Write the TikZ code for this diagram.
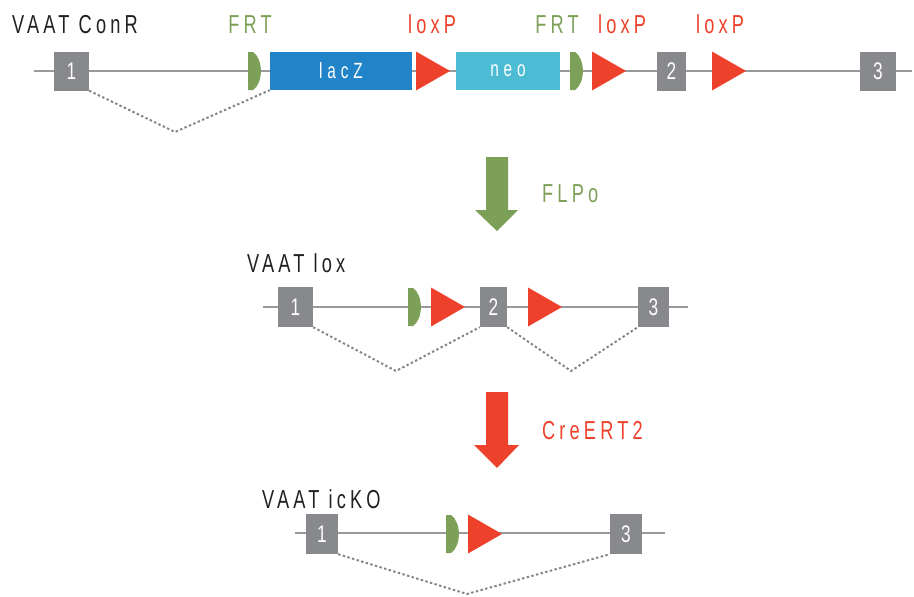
\documentclass[tikz,border=0pt]{standalone}
\usepackage{fontspec}
\setmainfont{Liberation Sans}
\newfontfamily\labfont[FakeStretch=0.70,LetterSpace=16]{Liberation Sans}
\newfontfamily\boxfont[FakeStretch=0.70,LetterSpace=22]{Liberation Sans}
\newfontfamily\numfont[FakeStretch=0.72,LetterSpace=0]{Liberation Sans}
\definecolor{exgray}{HTML}{88898D}
\definecolor{lgray}{HTML}{9A9A9C}
\definecolor{dgray}{HTML}{858587}
\definecolor{frtgreen}{HTML}{7DA058}
\definecolor{loxred}{HTML}{EE412B}
\definecolor{lacblue}{HTML}{2284C8}
\definecolor{neocyan}{HTML}{4CBBD4}
\definecolor{txt}{HTML}{231F20}
\newcommand\frtsite[2]{\fill[frtgreen] (#1,#2-19) -- (#1,#2+19) -- (#1+5,#2+19) .. controls (#1+15.5,#2+12) and (#1+15.5,#2-12) .. (#1+5,#2-19) -- cycle;}
\newcommand\loxpsite[2]{\fill[loxred] (#1,#2-19.5) -- (#1+34,#2) -- (#1,#2+19.5) -- cycle;}
\begin{document}
\begin{tikzpicture}[x=1pt,y=-1pt,
  gene/.style={draw=lgray, line width=1.8pt},
  exon/.style={fill=exgray, minimum height=39pt, inner sep=0pt, text=white, font=\numfont\fontsize{24}{24}\selectfont},
  cassette/.style={minimum height=38pt, inner sep=0pt, text=white, font=\boxfont\fontsize{22}{22}\selectfont},
  splice/.style={draw=dgray, line width=2pt, dash pattern=on 2.4pt off 2.4pt},
  lab/.style={inner sep=0pt, font=\labfont\fontsize{26}{26}\selectfont}
]
\useasboundingbox (0,0) rectangle (914,597);
% ---------------- row 1: VAAT ConR
\coordinate (r1L) at (34,71);
\coordinate (r1R) at (912,71);
\draw[gene] (r1L) -- (r1R);
\node[exon, minimum width=35pt] (a1) at (71.5,71) {1};
\frtsite{248}{71}
\node[cassette, fill=lacblue, minimum width=142pt] (lacz) at (341,71) {lacZ};
\loxpsite{416}{71}
\node[cassette, fill=neocyan, minimum width=104pt] (neo) at (508,71) {neo};
\frtsite{570}{71}
\loxpsite{592}{71}
\node[exon, minimum width=29pt] (a2) at (671.5,71) {2};
\loxpsite{712}{71}
\node[exon, minimum width=36pt] (a3) at (878,71) {3};
\coordinate (v1) at (175,132);
\draw[splice] (a1.south east) -- (v1) -- (lacz.south west);
\node[lab, text=txt, anchor=base west] (t1) at (12,33) {VAAT ConR};
\node[lab, text=frtgreen, anchor=base] (f1) at (250,33) {FRT};
\node[lab, text=loxred, anchor=base] (l1) at (432,33) {loxP};
\node[lab, text=frtgreen, anchor=base] (f2) at (557,33) {FRT};
\node[lab, text=loxred, anchor=base] (l2) at (622,33) {loxP};
\node[lab, text=loxred, anchor=base] (l3) at (720,33) {loxP};
% ---------------- arrow FLPo
\fill[frtgreen] (486,157) -- (508,157) -- (508,210) -- (518,210) -- (497,231) -- (475,210) -- (486,210) -- cycle;
\node[lab, text=frtgreen, anchor=base west] (flp) at (542,202) {FLPo};
% ---------------- row 2: VAAT lox
\coordinate (r2L) at (263,307);
\coordinate (r2R) at (688,307);
\draw[gene] (r2L) -- (r2R);
\node[exon, minimum width=35pt, minimum height=40pt] (b1) at (295.5,307) {1};
\frtsite{408}{307}
\loxpsite{431}{307}
\node[exon, minimum width=27pt, minimum height=40pt] (b2) at (493.5,307) {2};
\loxpsite{528}{307}
\node[exon, minimum width=31pt, minimum height=40pt] (b3) at (653.5,307) {3};
\coordinate (v2) at (396,371);
\coordinate (v3) at (571,371);
\draw[splice] (b1.south east) -- (v2) -- (b2.south west);
\draw[splice] (b2.south east) -- (v3) -- (b3.south west);
\node[lab, text=txt, anchor=base west] (t2) at (247,272) {VAAT lox};
% ---------------- arrow CreERT2
\fill[loxred] (486,392) -- (508,392) -- (508,445) -- (519,445) -- (497,468) -- (474,445) -- (486,445) -- cycle;
\node[lab, text=loxred, anchor=base west] (cre) at (542,439) {CreERT2};
% ---------------- row 3: VAAT icKO
\coordinate (r3L) at (295,533);
\coordinate (r3R) at (665,533);
\draw[gene] (r3L) -- (r3R);
\node[exon, minimum width=32pt, minimum height=40pt] (c1) at (322,534) {1};
\frtsite{446}{534}
\loxpsite{468}{534}
\node[exon, minimum width=32pt, minimum height=40pt] (c3) at (626,534) {3};
\coordinate (v4) at (467,594);
\draw[splice] (c1.south east) -- (v4) -- (c3.south west);
\node[lab, text=txt, anchor=base west] (t3) at (262,508) {VAAT icKO};
\end{tikzpicture}
\end{document}
